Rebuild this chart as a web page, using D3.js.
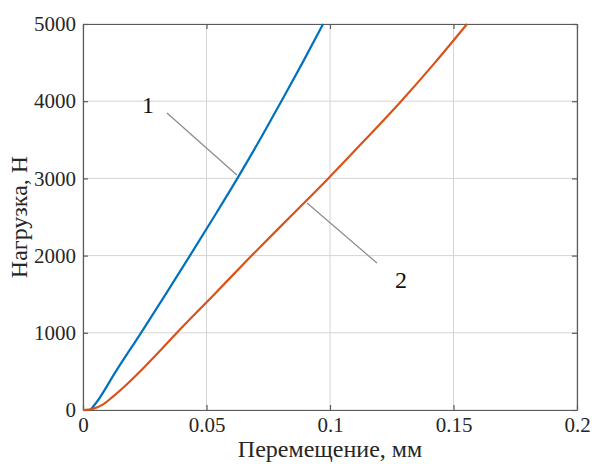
<!DOCTYPE html>
<html><head><meta charset="utf-8">
<script src="https://cdn.jsdelivr.net/npm/d3@7"></script>
<style>body{margin:0;background:#fff}svg{display:block}svg text{font-family:'Liberation Serif','Times New Roman',serif}</style>
</head><body>
<script>
const xTicks = [0, 0.05, 0.1, 0.15, 0.2];
const xTickLabels = ["0", "0.05", "0.1", "0.15", "0.2"];
const yTicks = [0, 1000, 2000, 3000, 4000, 5000];
const yTickLabels = ["0", "1000", "2000", "3000", "4000", "5000"];
// Curve 1 (blue): displacement, mm / load, N
const disp1 = [0.003, 0.0055, 0.0133, 0.0235, 0.0335, 0.0433, 0.053, 0.0625, 0.0716, 0.0803, 0.0889, 0.0972];
const load1 = [0, 100, 500, 1000, 1500, 2000, 2500, 3000, 3500, 4000, 4500, 5000];
// Curve 2 (orange)
const disp2 = [0, 0.004, 0.008, 0.012, 0.018, 0.025, 0.031, 0.038, 0.0532, 0.0683, 0.0838, 0.0993, 0.1142, 0.1288, 0.1425, 0.1555];
const load2 = [0, 15, 70, 170, 340, 560, 760, 1000, 1500, 2000, 2500, 3000, 3500, 4000, 4500, 5000];
const labels = ["1", "2"];
const labelPos = [[0.0263, 3847], [0.1287, 1580]];
const leaderFrom = [[0.034, 3847], [0.0907, 2681]];
const leaderTo = [[0.0623, 3044], [0.119, 1904]];
const colors = ["#0072BD", "#D95319"];

const W = 592, H = 464;
const m = {l: 83, t: 24, r: 15, b: 54};
const svg = d3.select("body").append("svg").attr("width", W).attr("height", H);
const x = d3.scaleLinear().domain([0, 0.2]).range([m.l, W - m.r]);
const y = d3.scaleLinear().domain([0, 5000]).range([H - m.b, m.t]);
const font = "'Liberation Serif', 'Times New Roman', serif";

// grid
svg.append("g").selectAll("line").data(xTicks).join("line")
  .attr("x1", d => x(d)).attr("x2", d => x(d)).attr("y1", y(0)).attr("y2", y(5000))
  .attr("stroke", "#d4d4d4").attr("stroke-width", 1);
svg.append("g").selectAll("line").data(yTicks).join("line")
  .attr("y1", d => y(d)).attr("y2", d => y(d)).attr("x1", x(0)).attr("x2", x(0.2))
  .attr("stroke", "#d4d4d4").attr("stroke-width", 1);

// axes
const xAxis = d3.axisBottom(x).tickValues(xTicks).tickFormat((d, i) => xTickLabels[i]).tickSizeInner(-5).tickSizeOuter(0).tickPadding(7);
const yAxis = d3.axisLeft(y).tickValues(yTicks).tickFormat((d, i) => yTickLabels[i]).tickSizeInner(-5).tickSizeOuter(0).tickPadding(7);
const gx = svg.append("g").attr("transform", `translate(0,${y(0)})`).call(xAxis);
const gy = svg.append("g").attr("transform", `translate(${x(0)},0)`).call(yAxis);
// top/right box
const xTop = d3.axisTop(x).tickValues(xTicks).tickFormat("").tickSizeInner(-5).tickSizeOuter(0);
const yRight = d3.axisRight(y).tickValues(yTicks).tickFormat("").tickSizeInner(-5).tickSizeOuter(0);
svg.append("g").attr("transform", `translate(0,${y(5000)})`).call(xTop);
svg.append("g").attr("transform", `translate(${x(0.2)},0)`).call(yRight);
svg.selectAll("g").attr("font-family", null);
svg.selectAll(".domain, .tick line").attr("stroke", "#5a5a5a").attr("stroke-width", 1.2);
svg.selectAll(".tick text").style("font-family", font).attr("font-size", 21).attr("fill", "#262626");

// leaders
svg.append("g").selectAll("line").data(leaderFrom).join("line")
  .attr("x1", d => x(d[0])).attr("y1", d => y(d[1]))
  .attr("x2", (d, i) => x(leaderTo[i][0])).attr("y2", (d, i) => y(leaderTo[i][1]))
  .attr("stroke", "#8a8a8a").attr("stroke-width", 1.2);

// curves
const line = d3.line().x(d => x(d[0])).y(d => y(d[1])).curve(d3.curveMonotoneX);
const series = [d3.zip(disp1, load1), d3.zip(disp2, load2)];
svg.append("g").selectAll("path").data(series).join("path")
  .attr("d", line).attr("fill", "none")
  .attr("stroke", (d, i) => colors[i]).attr("stroke-width", 2.2);

// labels
svg.append("g").selectAll("text").data(labels).join("text")
  .attr("x", (d, i) => x(labelPos[i][0])).attr("y", (d, i) => y(labelPos[i][1]))
  .attr("text-anchor", "middle").style("font-family", font).attr("font-size", 24).attr("fill", "#111")
  .text(d => d);

// axis titles
svg.append("text").attr("x", (x(0) + x(0.2)) / 2).attr("y", 457).attr("text-anchor", "middle")
  .style("font-family", font).attr("font-size", 24).attr("fill", "#262626").text("Перемещение, мм");
svg.append("text").attr("transform", `translate(27,${(y(0) + y(5000)) / 2}) rotate(-90)`)
  .attr("text-anchor", "middle").style("font-family", font).attr("font-size", 24).attr("fill", "#262626")
  .text("Нагрузка, Н");
</script>
</body></html>
